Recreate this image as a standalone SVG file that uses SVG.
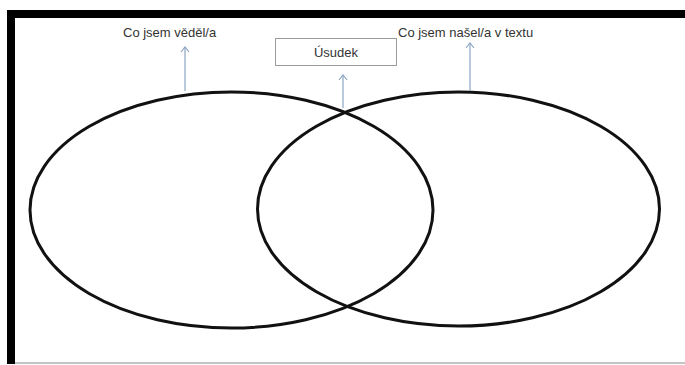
<svg xmlns="http://www.w3.org/2000/svg" width="685" height="365" viewBox="0 0 685 365">
<style>
.lbl{font-family:"Liberation Sans",Arial,sans-serif;font-size:13px;fill:#333}
.circ{fill:none;stroke:#111;stroke-width:3}
.arr{stroke:#8aa6c4;stroke-width:1.2;fill:none}
</style>
<defs>
<marker id="ah" viewBox="0 0 10 10" refX="6" refY="5" markerWidth="10" markerHeight="10" markerUnits="userSpaceOnUse" orient="auto">
<path d="M1,1 L6,5 L1,9" fill="none" stroke="#8aa6c4" stroke-width="1.2"/>
</marker>
</defs>
<rect width="685" height="365" fill="#fff"/>
<g id="frame">
<rect x="7" y="10" width="678" height="8" fill="#000"/>
<rect x="7" y="10" width="8" height="354" fill="#000"/>
<line x1="15" y1="363" x2="685" y2="363" stroke="#888" stroke-width="1"/>
</g>
<g id="left-set"><ellipse class="circ" cx="231.5" cy="210" rx="201.5" ry="118"/></g>
<g id="right-set"><ellipse class="circ" cx="458.5" cy="209" rx="201" ry="117"/></g>
<g id="label-left"><text class="lbl" x="123" y="37">Co jsem věděl/a</text></g>
<g id="label-right"><text class="lbl" x="398" y="37">Co jsem našel/a v textu</text></g>
<g id="usudek">
<rect x="275.5" y="38.5" width="121" height="27" fill="#fff" stroke="#9a9a9a" stroke-width="1"/>
<text class="lbl" x="336" y="57" text-anchor="middle">Úsudek</text>
</g>
<g id="connectors">
<line class="arr" x1="185" y1="91" x2="185" y2="47" marker-end="url(#ah)"/>
<line class="arr" x1="343" y1="108" x2="343" y2="75" marker-end="url(#ah)"/>
<line class="arr" x1="470" y1="91" x2="470" y2="43" marker-end="url(#ah)"/>
</g>
</svg>
